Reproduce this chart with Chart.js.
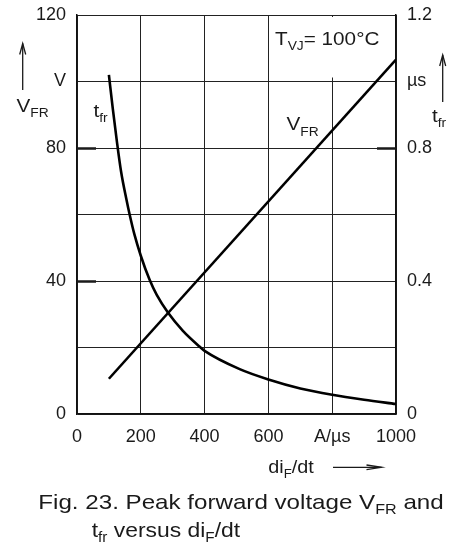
<!DOCTYPE html>
<html>
<head>
<meta charset="utf-8">
<script src="https://cdn.jsdelivr.net/npm/chart.js@4.4.1/dist/chart.umd.min.js"></script>
<style>
  html, body { margin: 0; padding: 0; background: #fff; }
  #wrap { position: relative; width: 458px; height: 548px; }
</style>
</head>
<body>
<div id="wrap"><canvas id="c" width="458" height="548"></canvas></div>
<script>
// di_F/dt axis (A/µs)
const rateTickLabels = ['0', '200', '400', '600', 'A/\u00b5s', '1000'];
// left axis: peak forward voltage V_FR (V), ticks every 20
const vfrTickLabels = ['0', '', '40', '', '80', 'V', '120'];
// right axis: forward recovery time t_fr (µs), ticks every 0.2
const tfrTickLabels = ['0', '', '0.4', '', '0.8', '\u00b5s', '1.2'];

// V_FR versus di_F/dt (straight line)
const vfrRate = [100, 1000];
const vfrVolts = [10.6, 106.6];

// t_fr versus di_F/dt
const tfrRate = [100, 112, 125, 138, 155, 165, 180, 200, 227, 250, 285, 332, 385, 400, 510, 600, 700, 800, 900, 1000];
const tfrMicro = [1.02, 0.92, 0.82, 0.73, 0.645, 0.60, 0.54, 0.476, 0.405, 0.358, 0.305, 0.25, 0.202, 0.19, 0.135, 0.104, 0.077, 0.058, 0.043, 0.030];

const FONT = '"Liberation Sans", Arial, Helvetica, sans-serif';
const INK = '#1a1a1a';
const SX = 1.15; // horizontal stretch of the annotation lettering

function toPts(xs, ys) { return xs.map((x, i) => ({ x: x, y: ys[i] })); }

// draws a run of text pieces [text, size, dy] starting at (x, y) baseline
function richText(ctx, x, y, parts, sx) {
  ctx.save();
  ctx.translate(x, y);
  ctx.scale(sx || SX, 1);
  ctx.fillStyle = INK;
  ctx.textAlign = 'left';
  ctx.textBaseline = 'alphabetic';
  let cx = 0;
  for (const [t, size, dy] of parts) {
    ctx.font = size + 'px ' + FONT;
    ctx.fillText(t, cx, dy || 0);
    cx += ctx.measureText(t).width;
  }
  ctx.restore();
}

function arrow(ctx, x1, y1, x2, y2, len, half) {
  const a = Math.atan2(y2 - y1, x2 - x1);
  ctx.save();
  ctx.strokeStyle = INK;
  ctx.lineWidth = 1.3;
  ctx.beginPath();
  ctx.moveTo(x1, y1);
  ctx.lineTo(x2, y2);
  ctx.stroke();
  ctx.beginPath();
  ctx.moveTo(x2 - len * Math.cos(a) + half * Math.sin(a), y2 - len * Math.sin(a) - half * Math.cos(a));
  ctx.lineTo(x2, y2);
  ctx.lineTo(x2 - len * Math.cos(a) - half * Math.sin(a), y2 - len * Math.sin(a) + half * Math.cos(a));
  ctx.stroke();
  ctx.restore();
}

// white panel behind the temperature note (under the curves, over the grid)
const notePanel = {
  id: 'notePanel',
  beforeDatasetsDraw(chart) {
    const { ctx, scales } = chart;
    const x0 = scales.x.getPixelForValue(600) + 2;
    const x1 = scales.x.getPixelForValue(1000) - 2;
    const y0 = scales.yV.getPixelForValue(120) + 2;
    const y1 = scales.yV.getPixelForValue(100) - 4;
    ctx.save();
    ctx.fillStyle = '#fff';
    ctx.fillRect(x0, y0, x1 - x0, y1 - y0);
    ctx.restore();
  }
};

// inner tick marks, labels and captions
const annotations = {
  id: 'annotations',
  afterDraw(chart) {
    const { ctx, scales, chartArea } = chart;
    const yV = scales.yV, yT = scales.yT;

    ctx.save();
    ctx.strokeStyle = INK;
    ctx.lineWidth = 2.4;
    ctx.beginPath();
    for (const v of [40, 80]) {
      const py = Math.round(yV.getPixelForValue(v)) + 0.5;
      ctx.moveTo(chartArea.left, py); ctx.lineTo(chartArea.left + 19, py);
    }
    const pr = Math.round(yT.getPixelForValue(0.8)) + 0.5;
    ctx.moveTo(chartArea.right - 19, pr); ctx.lineTo(chartArea.right, pr);
    ctx.stroke();
    ctx.restore();

    // temperature note
    richText(ctx, 275, 45, [['T', 18], ['VJ', 12, 5], ['= 100\u00b0C', 18]]);

    // curve labels
    richText(ctx, 93.5, 117, [['t', 18], ['fr', 12, 5]]);
    richText(ctx, 286.5, 130, [['V', 18], ['FR', 12, 6]]);

    // left axis title
    arrow(ctx, 22.7, 90, 22.7, 43.5, 11, 3);
    richText(ctx, 16.5, 111.7, [['V', 18], ['FR', 12, 5]]);

    // right axis title
    arrow(ctx, 442.7, 102, 442.7, 55, 11, 3);
    richText(ctx, 432, 121.7, [['t', 18], ['fr', 12, 5]]);

    // x axis title
    richText(ctx, 268.3, 472.7, [['di', 18], ['F', 12, 5], ['/dt', 18]], 1.1);
    arrow(ctx, 333, 467.3, 381.5, 467.3, 15, 2.3);

    // figure caption
    richText(ctx, 38.3, 509.3, [['Fig. 23. Peak forward voltage V', 21], ['FR', 14, 5], [' and', 21]]);
    richText(ctx, 91.7, 536.7, [['t', 21], ['fr', 14, 5], [' versus di', 21], ['F', 14, 5], ['/dt', 21]], 1.09);
  }
};

const tickFont = { family: FONT, size: 18 };

// vertical axes: fixed width, no extra room reserved above/below for end labels
function fixVertical(width) {
  return function (s) { s.width = width; s.paddingTop = 0; s.paddingBottom = 0; };
}

new Chart(document.getElementById('c'), {
  type: 'scatter',
  data: {
    datasets: [
      {
        label: 'V_FR',
        data: toPts(vfrRate, vfrVolts),
        yAxisID: 'yV',
        showLine: true,
        borderColor: '#000',
        borderWidth: 2.6,
        pointRadius: 0,
        fill: false
      },
      {
        label: 't_fr',
        data: toPts(tfrRate, tfrMicro),
        yAxisID: 'yT',
        showLine: true,
        cubicInterpolationMode: 'monotone',
        borderColor: '#000',
        borderWidth: 2.6,
        pointRadius: 0,
        fill: false
      }
    ]
  },
  options: {
    responsive: false,
    devicePixelRatio: 1,
    animation: false,
    events: [],
    layout: { padding: { top: 15, left: 0, right: 0, bottom: 0 } },
    plugins: { legend: { display: false }, tooltip: { enabled: false } },
    scales: {
      x: {
        type: 'linear',
        min: 0, max: 1000,
        afterFit(s) { s.height = 134; s.paddingLeft = 0; s.paddingRight = 0; },
        ticks: {
          stepSize: 200, autoSkip: false, maxRotation: 0,
          font: tickFont, color: INK, padding: 12,
          callback: (v, i) => rateTickLabels[i]
        },
        grid: { color: '#222', lineWidth: 1, drawTicks: false },
        border: { color: '#111', width: 1.5 }
      },
      yV: {
        type: 'linear',
        position: 'left',
        min: 0, max: 120,
        afterFit: fixVertical(77),
        ticks: {
          stepSize: 20, autoSkip: false,
          font: tickFont, color: INK, padding: 11,
          callback: (v, i) => vfrTickLabels[i]
        },
        grid: { color: '#222', lineWidth: 1, drawTicks: false },
        border: { color: '#111', width: 1.5 }
      },
      yT: {
        type: 'linear',
        position: 'right',
        min: 0, max: 1.2,
        afterFit: fixVertical(62),
        ticks: {
          stepSize: 0.2, autoSkip: false,
          font: tickFont, color: INK, padding: 11,
          callback: (v, i) => tfrTickLabels[i]
        },
        grid: { display: false, drawTicks: false },
        border: { color: '#111', width: 1.5 }
      }
    }
  },
  plugins: [notePanel, annotations]
});
</script>
</body>
</html>
